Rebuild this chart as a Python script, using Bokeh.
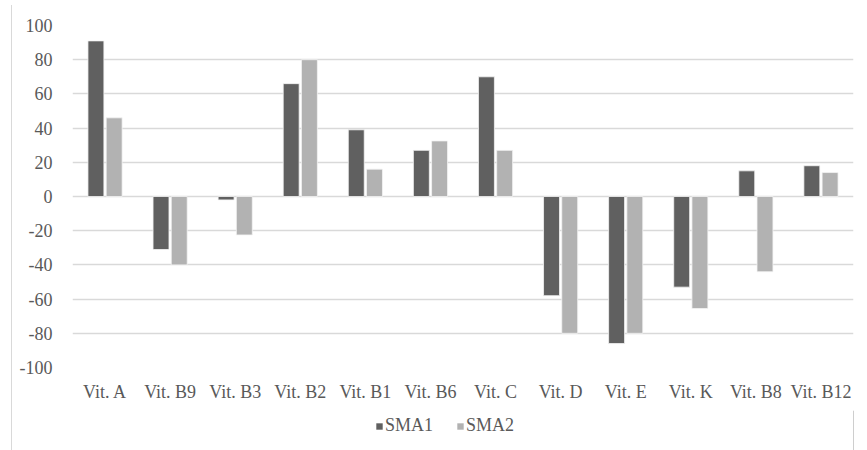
from bokeh.plotting import figure
from bokeh.models import (ColumnDataSource, FactorRange, Legend, LegendItem,
                          Range1d, Div, SingleIntervalTicker, PrintfTickFormatter)
from bokeh.layouts import row, column
from bokeh.transform import dodge
from bokeh.embed import file_html
from bokeh.resources import INLINE

# Change per vitamin for two groups
vitamins = ["Vit. A", "Vit. B9", "Vit. B3", "Vit. B2", "Vit. B1", "Vit. B6",
            "Vit. C", "Vit. D", "Vit. E", "Vit. K", "Vit. B8", "Vit. B12"]
sma1 = [91, -31, -2, 66, 39, 27, 70, -58, -86, -53, 15, 18]
sma2 = [46, -40, -22.5, 80, 16, 32.5, 27, -80, -80, -65.5, -44, 14]
series = ["SMA1", "SMA2"]

FONT = "Liberation Serif"
TEXT = "#595959"
GRID = "#d9d9d9"
DARK = "#606060"
LIGHT = "#b2b2b2"

src = ColumnDataSource(dict(cat=vitamins, sma1=sma1, sma2=sma2))

p = figure(width=855, height=410, x_range=FactorRange(*vitamins),
           y_range=Range1d(-100, 100), output_backend="svg",
           toolbar_location=None, min_border_left=60, min_border_right=14,
           min_border_top=25, min_border_bottom=43)

bar_style = dict(width=0.245, bottom=0, line_color="#f4f4f4", line_width=0.8)
p.vbar(x=dodge("cat", -0.14, range=p.x_range), top="sma1", source=src,
       fill_color=DARK, **bar_style)
p.vbar(x=dodge("cat", 0.14, range=p.x_range), top="sma2", source=src,
       fill_color=LIGHT, **bar_style)

p.outline_line_color = None
p.xgrid.grid_line_color = None
p.ygrid.grid_line_color = GRID
p.ygrid.grid_line_width = 1.3
p.yaxis.ticker = SingleIntervalTicker(interval=20)
p.yaxis.formatter = PrintfTickFormatter(format="%d")

for ax in (p.xaxis, p.yaxis):
    ax.axis_line_color = None
    ax.major_tick_line_color = None
    ax.minor_tick_line_color = None
    ax.major_label_text_font = FONT
    ax.major_label_text_font_size = "18px"
    ax.major_label_text_color = TEXT
p.yaxis.major_label_standoff = 14
p.xaxis.major_label_standoff = 8

# separate strip holding the series key under the category labels;
# its key renderers hold one point placed outside the visible range
lg = figure(width=855, height=40, x_range=Range1d(0, 1), y_range=Range1d(0, 1),
            output_backend="svg", toolbar_location=None, min_border=0)
lg.axis.visible = False
lg.grid.visible = False
lg.outline_line_color = None
offscreen = ColumnDataSource(dict(x=[5], top=[5]))
k1 = lg.vbar(x="x", top="top", width=0.1, source=offscreen, fill_color=DARK, line_color=None)
k2 = lg.vbar(x="x", top="top", width=0.1, source=offscreen, fill_color=LIGHT, line_color=None)

legend = Legend(items=[LegendItem(label=series[0], renderers=[k1]),
                       LegendItem(label=series[1], renderers=[k2])],
                orientation="horizontal", location=(303, 14),
                glyph_width=8, glyph_height=8, label_standoff=2, spacing=23,
                label_text_font=FONT, label_text_font_size="18px",
                label_text_color=TEXT, border_line_color=None,
                background_fill_alpha=0, padding=0, margin=0)
lg.add_layout(legend, "center")

# thin rule along the left edge of the chart area
edge = Div(width=12, height=445, margin=(5, 0, 0, 0),
           styles={"border-right": "1px solid #d9d9d9", "box-sizing": "border-box"})

layout = row(edge, column(p, lg, spacing=0), spacing=0)
open("out.html", "w").write(file_html(layout, INLINE))
